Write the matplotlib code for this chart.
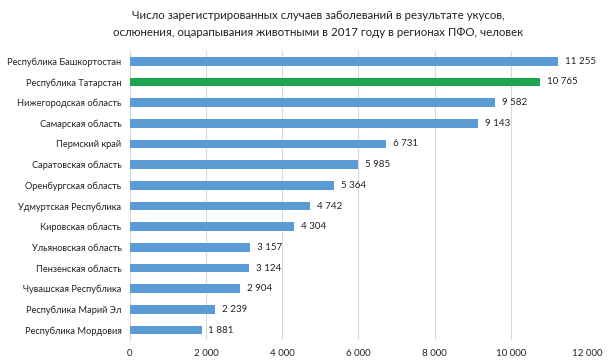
import matplotlib.pyplot as plt

regions = [
    'Республика Башкортостан',
    'Республика Татарстан',
    'Нижегородская область',
    'Самарская область',
    'Пермский край',
    'Саратовская область',
    'Оренбургская область',
    'Удмуртская Республика',
    'Кировская область',
    'Ульяновская область',
    'Пензенская область',
    'Чувашская Республика',
    'Республика Марий Эл',
    'Республика Мордовия',
]
cases = [11255, 10765, 9582, 9143, 6731, 5985, 5364, 4742, 4304, 3157, 3124, 2904, 2239, 1881]
highlight = 'Республика Татарстан'
x_ticks = [0, 2000, 4000, 6000, 8000, 10000, 12000]


def fmt(v):
    return f'{v:,}'.replace(',', ' ')


plt.rcParams['font.family'] = ['Lato', 'DejaVu Sans']

fig = plt.figure(figsize=(6.1, 3.63), dpi=100)
ax = fig.add_axes([0.213, 0.062, 0.749, 0.798])

colors = ['#20a34e' if r == highlight else '#5b9bd5' for r in regions]
y = list(range(len(regions)))
ax.barh(y, cases, height=0.42, color=colors, zorder=3)

for yi, v in zip(y, cases):
    ax.text(v + 180, yi, fmt(v), va='center', ha='left', fontsize=7.0, color='#222222')

ax.set_ylim(len(regions) - 0.5, -0.5)
ax.set_xlim(0, 12000)
ax.set_yticks(y)
ax.set_yticklabels(regions, fontsize=6.7, color='#222222')
ax.set_xticks(x_ticks)
ax.set_xticklabels([fmt(t) for t in x_ticks], fontsize=7.0, color='#222222')
ax.tick_params(length=0, pad=6)
ax.tick_params(axis='y', pad=6)

ax.grid(axis='x', color='#d9d9d9', linewidth=0.8, zorder=0)
for s in ['top', 'right', 'bottom']:
    ax.spines[s].set_visible(False)
ax.spines['left'].set_color('#d9d9d9')

fig.text(0.522, 0.972, 'Число зарегистрированных случаев заболеваний в результате укусов,\n'
         'ослюнения, оцарапывания животными в 2017 году в регионах ПФО, человек',
         ha='center', va='top', fontsize=8.3, color='#222222', linespacing=1.6)

fig.savefig('out.png', dpi=100)
